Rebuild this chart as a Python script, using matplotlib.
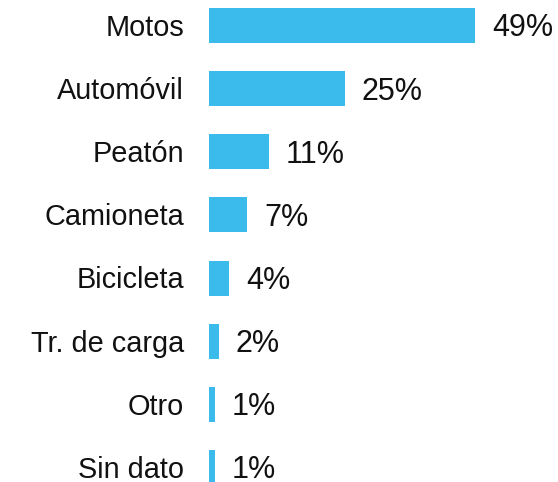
import matplotlib
matplotlib.use("Agg")
import matplotlib.pyplot as plt
from matplotlib.transforms import offset_copy

categories = ["Motos", "Automóvil", "Peatón", "Camioneta", "Bicicleta", "Tr. de carga", "Otro", "Sin dato"]
values = [49, 25, 11, 7, 3.7, 1.8, 1.1, 1.1]
labels = ["49%", "25%", "11%", "7%", "4%", "2%", "1%", "1%"]

plt.rcParams['font.family'] = ['Liberation Sans', 'DejaVu Sans']

W, H = 558, 482
fig = plt.figure(figsize=(W / 100, H / 100), dpi=100)
left = 209 / W
ax = fig.add_axes([left, 0, 1 - left, 1])

spacing = 63.14
c0 = 25.5
top = -c0 / spacing
bottom = top + H / spacing
px_per = 5.43
ax.set_xlim(0, (W - 209) / px_per)
ax.set_ylim(bottom, top)

ypos = list(range(len(categories)))
ax.barh(ypos, values, height=35 / spacing, color="#3BBBEB", edgecolor="none")

fs_val = 22
fs_cat = 20.8
for y, v, lab, cat in zip(ypos, values, labels, categories):
    ax.text(v, y, lab,
            transform=offset_copy(ax.transData, fig=fig, x=17 * 0.72, y=-0.716 * fs_val / 2, units='points'),
            ha="left", va="baseline", fontsize=fs_val, color="#111111")
    ax.text(0, y, cat,
            transform=offset_copy(ax.transData, fig=fig, x=-25 * 0.72, y=-0.716 * fs_cat / 2, units='points'),
            ha="right", va="baseline", fontsize=fs_cat, color="#111111", clip_on=False)

ax.axis("off")
fig.savefig("out.png", dpi=100)
